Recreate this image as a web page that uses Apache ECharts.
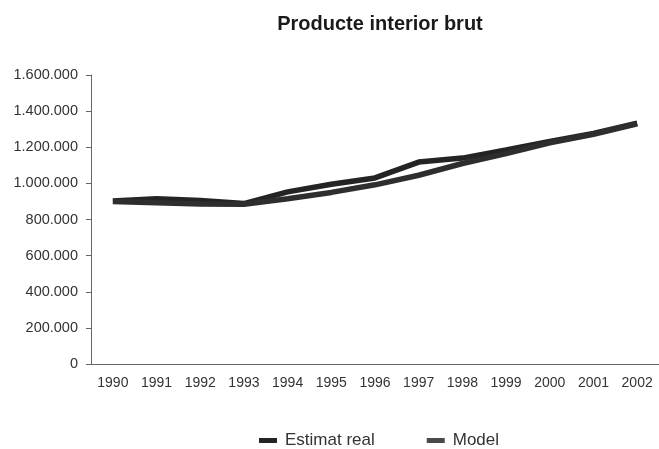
<!DOCTYPE html>
<html>
<head>
<meta charset="utf-8">
<script src="https://cdn.jsdelivr.net/npm/echarts@6/dist/echarts.min.js"></script>
<style>
  html, body { margin: 0; padding: 0; background: #ffffff; }
  #chart { width: 659px; height: 449px; }
</style>
</head>
<body>
<div id="chart"></div>
<script>
// Years on the horizontal axis
const years = ['1990', '1991', '1992', '1993', '1994', '1995', '1996',
               '1997', '1998', '1999', '2000', '2001', '2002'];

// Observed GDP estimate
const estimatReal = [903000, 915000, 905000, 888000, 953000, 995000, 1030000,
                     1118000, 1140000, 1185000, 1232000, 1277000, 1333000];

// Model fit
const model = [900000, 893000, 886000, 885000, 915000, 950000, 992000,
               1045000, 1110000, 1165000, 1225000, 1272000, 1330000];

// Thousands separated with dots
function fmt(v) {
  return String(v).replace(/\B(?=(\d{3})+(?!\d))/g, '.');
}

const chart = echarts.init(document.getElementById('chart'));
const FONT = '"Liberation Sans", Arial, Helvetica, sans-serif';

chart.setOption({
  backgroundColor: '#ffffff',
  animation: false,
  title: {
    text: 'Producte interior brut',
    left: 375,
    textAlign: 'center',
    top: 9,
    textStyle: { fontFamily: FONT, fontSize: 20, fontWeight: 'bold', color: '#1a1a1a' }
  },
  legend: {
    top: 427,
    left: 254,
    icon: 'rect',
    itemWidth: 18,
    itemHeight: 5,
    itemGap: 52,
    textStyle: { fontFamily: FONT, fontSize: 17, color: '#333', padding: [0, 0, 0, 3] },
    data: ['Estimat real', 'Model']
  },
  grid: { left: 91, right: 0, top: 75, bottom: 85 },
  xAxis: {
    type: 'category',
    data: years,
    boundaryGap: true,
    axisLine: { lineStyle: { color: '#666', width: 1 } },
    axisTick: { inside: true, length: 7, lineStyle: { color: '#666' } },
    axisLabel: { fontFamily: FONT, fontSize: 14, color: '#333', margin: 12 }
  },
  yAxis: {
    type: 'value',
    min: 0,
    max: 1600000,
    interval: 200000,
    splitLine: { show: false },
    axisLine: { show: true, lineStyle: { color: '#666', width: 1 } },
    axisTick: { show: true, length: 5, lineStyle: { color: '#666' } },
    axisLabel: {
      fontFamily: FONT, fontSize: 14.5, color: '#333', margin: 13,
      formatter: fmt
    }
  },
  series: [
    {
      name: 'Estimat real',
      type: 'line',
      data: estimatReal,
      symbol: 'none',
      color: '#242424',
      lineStyle: { width: 5.5, color: '#242424' }
    },
    {
      name: 'Model',
      type: 'line',
      data: model,
      symbol: 'none',
      color: '#4a4a4a',
      lineStyle: { width: 5.5, color: '#2e2e2e' }
    }
  ]
});
</script>
</body>
</html>
